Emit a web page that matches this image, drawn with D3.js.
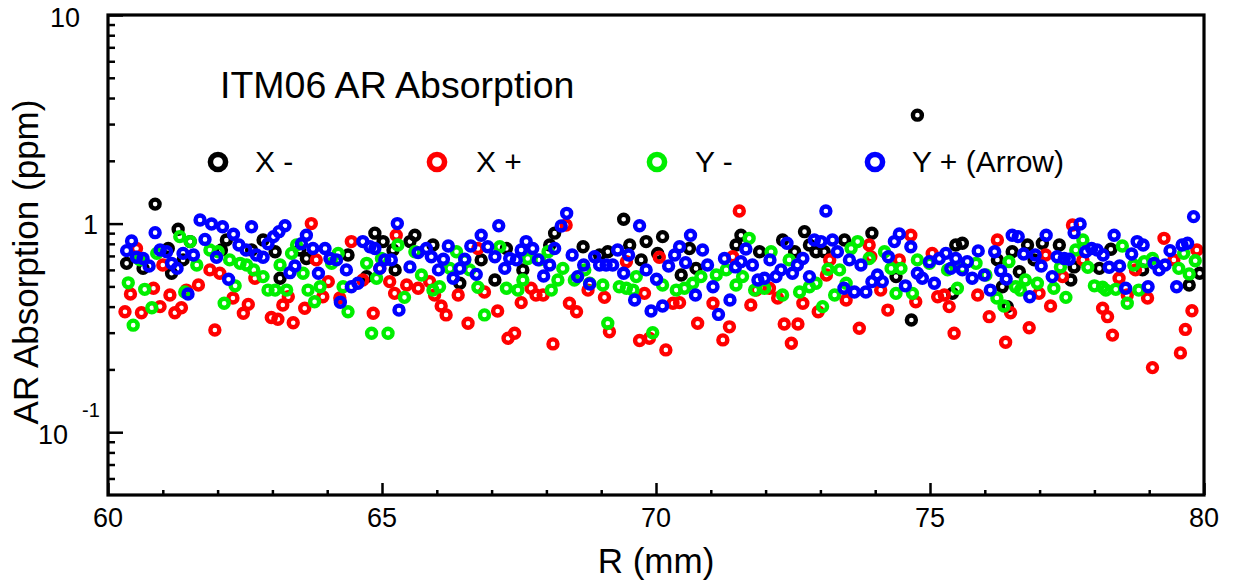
<!DOCTYPE html>
<html><head><meta charset="utf-8">
<script src="https://cdn.jsdelivr.net/npm/d3@7"></script>
<style>
html,body{margin:0;padding:0;background:#fff;}
svg{display:block;}
text{font-family:"Liberation Sans",Arial,Helvetica,sans-serif;fill:#000;}
</style></head>
<body><svg id="c" width="1233" height="584"></svg>
<script>
// ---- data: [R (mm), absorption (ppm)] ----
const xMinus = [[60.34,0.645],[60.64,0.61],[60.86,1.24],[61.10,0.76],[61.16,0.578],[61.28,0.94],[61.37,0.67],[61.50,0.82],[62.07,0.747],[62.16,0.835],[62.62,0.747],[62.83,0.835],[63.05,0.733],[63.14,0.547],[63.50,0.747],[63.62,0.68],[64.38,0.707],[64.72,0.557],[64.87,0.90],[65.02,0.82],[65.20,0.747],[65.24,0.60],[65.51,0.82],[65.60,0.88],[65.93,0.79],[66.42,0.518],[66.81,0.67],[67.06,0.537],[67.27,0.76],[67.57,0.60],[68.06,0.79],[68.15,0.90],[68.67,0.775],[68.97,0.707],[69.12,0.733],[69.41,1.05],[69.52,0.79],[69.73,0.67],[69.82,0.82],[70.03,0.72],[70.12,0.866],[70.46,0.567],[70.61,0.76],[70.73,0.61],[71.46,0.79],[71.55,0.88],[71.89,0.733],[72.31,0.835],[72.53,0.733],[72.71,0.915],[72.80,0.79],[72.92,0.733],[73.07,0.733],[73.44,0.835],[73.94,0.90],[74.38,0.557],[74.66,0.345],[74.77,3.31],[75.41,0.463],[75.47,0.79],[75.59,0.805],[76.23,0.67],[76.32,0.498],[76.41,0.40],[76.50,0.733],[76.63,0.588],[76.78,0.79],[76.90,0.67],[77.05,0.805],[77.36,0.79],[77.57,0.537],[77.63,0.62],[78.09,0.61],[78.30,0.753],[78.88,0.60],[79.73,0.508],[79.92,0.578]];
const xPlus = [[60.31,0.378],[60.41,0.46],[60.52,0.76],[60.61,0.374],[60.83,0.49],[60.95,0.40],[61.00,0.633],[61.13,0.455],[61.22,0.374],[61.34,0.395],[61.43,0.48],[61.65,0.508],[61.86,0.60],[61.95,0.309],[62.04,0.578],[62.28,0.44],[62.47,0.372],[62.56,0.41],[62.68,0.547],[62.98,0.355],[63.10,0.348],[63.19,0.407],[63.29,0.446],[63.38,0.335],[63.59,0.393],[63.71,1.0],[63.80,0.67],[63.92,0.446],[64.02,0.527],[64.23,0.44],[64.44,0.82],[64.65,0.537],[64.84,0.372],[64.96,0.61],[65.14,0.527],[65.23,0.463],[65.26,0.88],[65.45,0.508],[65.66,0.49],[65.87,0.527],[65.96,0.455],[66.08,0.403],[66.17,0.365],[66.39,0.455],[66.57,0.333],[66.75,0.76],[66.87,0.47],[67.11,0.381],[67.30,0.282],[67.42,0.298],[67.54,0.418],[67.72,0.49],[67.81,0.455],[67.94,0.455],[68.12,0.265],[68.36,0.985],[68.42,0.415],[68.55,0.378],[68.76,0.48],[69.06,0.443],[69.15,0.303],[69.46,0.657],[69.70,0.275],[69.79,0.463],[69.88,0.282],[70.06,0.69],[70.18,0.248],[70.31,0.415],[70.43,0.418],[70.76,0.333],[71.04,0.415],[71.22,0.277],[71.34,0.32],[71.40,0.694],[71.52,1.15],[71.73,0.407],[71.83,0.48],[72.07,0.49],[72.22,0.44],[72.34,0.33],[72.47,0.267],[72.59,0.33],[72.68,0.415],[72.96,0.378],[73.11,0.567],[73.17,0.67],[73.47,0.43],[73.71,0.315],[73.89,0.79],[73.92,0.694],[74.10,0.48],[74.23,0.385],[74.44,0.67],[74.65,0.88],[74.74,0.422],[75.04,0.72],[75.14,0.446],[75.26,0.455],[75.35,0.40],[75.44,0.298],[75.87,0.455],[76.08,0.358],[76.23,0.835],[76.38,0.27],[76.47,0.374],[76.81,0.317],[76.99,0.463],[77.11,0.707],[77.20,0.403],[77.42,0.557],[77.60,0.985],[77.79,0.67],[78.15,0.393],[78.24,0.358],[78.33,0.292],[78.45,0.547],[78.60,0.455],[78.75,0.60],[78.97,0.44],[79.06,0.204],[79.27,0.85],[79.45,0.67],[79.57,0.24],[79.66,0.311],[79.78,0.382],[79.87,0.747]];
const yMinus = [[60.37,0.52],[60.46,0.326],[60.58,0.67],[60.67,0.484],[60.80,0.395],[60.89,0.72],[61.31,0.866],[61.40,0.47],[61.50,0.82],[61.62,0.633],[61.86,0.747],[62.01,0.733],[62.12,0.415],[62.22,0.67],[62.32,0.503],[62.41,0.645],[62.53,0.633],[62.66,0.60],[62.83,0.557],[62.92,0.48],[63.05,0.48],[63.14,0.633],[63.26,0.48],[63.35,0.72],[63.44,0.79],[63.56,0.578],[63.65,0.48],[63.77,0.422],[63.87,0.498],[64.08,0.645],[64.20,0.72],[64.29,0.498],[64.38,0.378],[64.72,0.645],[64.81,0.298],[64.90,0.547],[64.99,0.68],[65.11,0.298],[65.29,0.79],[65.41,0.443],[65.60,0.733],[65.72,0.567],[65.93,0.48],[66.05,0.498],[66.24,0.61],[66.36,0.733],[66.51,0.67],[66.60,0.60],[66.75,0.495],[66.87,0.365],[67.15,0.775],[67.27,0.49],[67.48,0.48],[67.57,0.537],[67.66,0.68],[67.88,0.67],[68.03,0.733],[68.09,0.48],[68.21,0.537],[68.30,0.61],[68.51,0.537],[68.70,0.60],[68.79,0.518],[69.03,0.508],[69.12,0.333],[69.33,0.498],[69.46,0.49],[69.58,0.48],[69.64,0.557],[69.94,0.30],[70.12,0.508],[70.37,0.48],[70.52,0.49],[70.67,0.518],[70.82,0.557],[71.10,0.567],[71.28,0.60],[71.46,0.508],[71.58,0.557],[71.70,0.85],[71.80,0.48],[71.98,0.49],[72.10,0.733],[72.31,0.455],[72.43,0.67],[72.62,0.47],[72.80,0.498],[72.92,0.518],[73.04,0.40],[73.14,0.604],[73.26,0.455],[73.35,0.60],[73.47,0.518],[73.56,0.76],[73.68,0.82],[73.89,0.68],[74.17,0.733],[74.29,0.61],[74.38,0.463],[74.47,0.61],[74.68,0.463],[74.77,0.67],[74.99,0.645],[75.32,0.60],[75.50,0.49],[75.59,0.61],[75.84,0.645],[76.02,0.567],[76.22,0.44],[76.35,0.403],[76.44,0.657],[76.56,0.498],[76.65,0.48],[76.74,0.537],[76.96,0.518],[77.26,0.49],[77.38,0.62],[77.48,0.443],[77.66,0.747],[77.79,0.835],[77.88,0.618],[78.00,0.503],[78.15,0.495],[78.21,0.48],[78.39,0.484],[78.51,0.781],[78.60,0.415],[78.72,0.633],[78.81,0.48],[78.91,0.657],[79.06,0.68],[79.54,0.61],[79.63,0.72],[79.73,0.574],[79.84,0.664]];
const yPlus = [[60.34,0.742],[60.43,0.825],[60.52,0.69],[60.64,0.68],[60.75,0.626],[60.86,0.905],[60.95,0.747],[61.07,0.733],[61.16,0.645],[61.26,0.61],[61.37,0.72],[61.46,0.46],[61.56,0.707],[61.68,1.04],[61.77,0.84],[61.89,0.996],[61.98,0.69],[62.09,0.966],[62.20,0.541],[62.29,0.889],[62.39,0.79],[62.52,0.747],[62.62,0.966],[62.71,0.707],[62.83,0.69],[62.92,0.80],[63.02,0.866],[63.12,0.915],[63.23,0.977],[63.32,0.582],[63.41,0.626],[63.53,0.80],[63.62,0.88],[63.74,0.76],[63.84,0.578],[63.96,0.76],[64.05,0.68],[64.17,0.67],[64.24,0.42],[64.35,0.60],[64.44,0.498],[64.56,0.518],[64.65,0.82],[64.78,0.775],[64.87,0.76],[64.96,0.61],[65.05,0.67],[65.17,0.67],[65.28,1.0],[65.31,0.385],[65.51,0.62],[65.66,0.726],[65.81,0.76],[65.90,0.694],[66.03,0.60],[66.12,0.675],[66.21,0.781],[66.30,0.547],[66.42,0.61],[66.51,0.675],[66.62,0.781],[66.72,0.571],[66.81,0.88],[66.93,0.775],[67.06,0.694],[67.13,0.977],[67.24,0.61],[67.33,0.68],[67.45,0.67],[67.54,0.747],[67.63,0.82],[67.75,0.76],[67.85,0.67],[67.95,0.561],[68.06,0.633],[68.15,0.76],[68.27,0.974],[68.37,1.12],[68.47,0.707],[68.57,0.557],[68.68,0.633],[68.79,0.513],[68.88,0.694],[68.97,0.633],[69.09,0.633],[69.21,0.633],[69.30,0.747],[69.41,0.578],[69.50,0.707],[69.61,0.43],[69.70,0.977],[69.82,0.60],[69.91,0.381],[70.01,0.541],[70.12,0.403],[70.23,0.626],[70.34,0.707],[70.43,0.775],[70.54,0.65],[70.63,0.88],[70.72,0.455],[70.85,0.747],[70.94,0.633],[71.04,0.498],[71.14,0.367],[71.25,0.68],[71.35,0.43],[71.45,0.62],[71.55,0.657],[71.64,0.755],[71.76,0.633],[71.86,0.537],[71.98,0.547],[72.08,0.67],[72.19,0.557],[72.28,0.60],[72.39,0.805],[72.49,0.578],[72.58,0.633],[72.68,0.68],[72.80,0.557],[72.89,0.835],[73.01,0.82],[73.10,1.15],[73.22,0.835],[73.31,0.733],[73.43,0.49],[73.53,0.67],[73.62,0.47],[73.74,0.633],[73.83,0.47],[73.94,0.527],[74.04,0.567],[74.13,0.527],[74.24,0.694],[74.35,0.82],[74.44,0.892],[74.55,0.503],[74.65,0.775],[74.77,0.578],[74.86,0.547],[74.99,0.657],[75.08,0.518],[75.17,0.68],[75.29,0.72],[75.38,0.61],[75.47,0.68],[75.59,0.60],[75.68,0.657],[75.77,0.547],[75.88,0.74],[75.99,0.567],[76.10,0.48],[76.18,0.733],[76.29,0.595],[76.39,0.542],[76.50,0.88],[76.61,0.866],[76.71,0.715],[76.82,0.446],[76.92,0.707],[77.03,0.626],[77.12,0.88],[77.23,0.557],[77.32,0.694],[77.45,0.68],[77.54,0.675],[77.63,0.905],[77.74,0.996],[77.84,0.733],[77.95,0.76],[78.05,0.747],[78.16,0.707],[78.27,0.618],[78.36,0.88],[78.46,0.626],[78.57,0.49],[78.68,0.715],[78.78,0.82],[78.89,0.79],[78.98,0.498],[79.09,0.645],[79.18,0.60],[79.29,0.633],[79.38,0.742],[79.50,0.498],[79.60,0.79],[79.70,0.805],[79.81,1.08]];

const seriesNames = ["X -", "X +", "Y -", "Y + (Arrow)"];
const seriesColors = ["#000000", "#ff0000", "#00ee00", "#0000ff"];
const xTicks = [60, 65, 70, 75, 80];
const xMinorTicks = d3.range(61, 80, 1).filter(v => v % 5 !== 0);
const yMajorTicks = [0.1, 1, 10];
const yMinorTicks = [0.06,0.07,0.08,0.09,0.2,0.3,0.4,0.5,0.6,0.7,0.8,0.9,2,3,4,5,6,7,8,9];
const titleText = "ITM06 AR Absorption";
const xTitle = "R (mm)";
const yTitle = "AR Absorption (ppm)";

// ---- layout ----
const L = 108, R = 1204, T = 15, B = 495;
const svg = d3.select("#c");
const x = d3.scaleLinear().domain([60, 80]).range([L, R]);
const y = d3.scaleLog().domain([0.05, 10]).range([B, T]);

svg.append("defs").append("clipPath").attr("id", "pc")
  .append("rect").attr("x", L).attr("y", T).attr("width", R - L).attr("height", B - T);

// points
const allSeries = [xMinus, xPlus, yMinus, yPlus];
const pts = svg.append("g").attr("clip-path", "url(#pc)");
allSeries.forEach((s, i) => {
  pts.append("g").selectAll("circle").data(s).join("circle")
    .attr("cx", d => x(d[0])).attr("cy", d => y(d[1])).attr("r", 4.5)
    .attr("fill", "none").attr("stroke", seriesColors[i]).attr("stroke-width", 4.4);
});

// axes ticks (inside)
const gx = svg.append("g").attr("transform", `translate(0,${B})`);
gx.call(d3.axisBottom(x).tickValues(xTicks).tickSize(-12).tickFormat(""));
const gxm = svg.append("g").attr("transform", `translate(0,${B})`);
gxm.call(d3.axisBottom(x).tickValues(xMinorTicks).tickSize(-5).tickFormat(""));
const gy = svg.append("g").attr("transform", `translate(${L},0)`);
gy.call(d3.axisLeft(y).tickValues(yMajorTicks).tickSize(-15).tickFormat(""));
const gym = svg.append("g").attr("transform", `translate(${L},0)`);
gym.call(d3.axisLeft(y).tickValues(yMinorTicks).tickSize(-7).tickFormat(""));
[gx, gxm, gy, gym].forEach(g => {
  g.select(".domain").remove();
  g.selectAll(".tick line").attr("stroke", "#000").attr("stroke-width", 2.5);
});

// frame
svg.append("rect").attr("x", L).attr("y", T).attr("width", R - L).attr("height", B - T)
  .attr("fill", "none").attr("stroke", "#000").attr("stroke-width", 3.2);

// x tick labels
svg.append("g").selectAll("text").data(xTicks).join("text")
  .attr("x", d => x(d)).attr("y", 527).attr("text-anchor", "middle")
  .attr("font-size", 27).text(d => d);

// y tick labels
svg.append("text").attr("x", 80).attr("y", y(10) + 12).attr("text-anchor", "end").attr("font-size", 27).text("10");
svg.append("text").attr("x", 98).attr("y", y(1) + 10).attr("text-anchor", "end").attr("font-size", 27).text("1");
svg.append("text").attr("x", 68).attr("y", y(0.1) + 12).attr("text-anchor", "end").attr("font-size", 27).text("10");
svg.append("text").attr("x", 82).attr("y", y(0.1) - 15).attr("text-anchor", "start").attr("font-size", 20).text("-1");

// axis titles
svg.append("text").attr("x", (L + R) / 2).attr("y", 573).attr("text-anchor", "middle")
  .attr("font-size", 35).text(xTitle);
svg.append("text").attr("transform", "translate(38,262) rotate(-90)").attr("text-anchor", "middle")
  .attr("font-size", 35).text(yTitle);

// chart title
svg.append("text").attr("x", 220).attr("y", 98).attr("font-size", 37.5).text(titleText);

// legend
const legMarkX = [218, 437, 657, 875];
const legTextX = [255, 476, 695, 912];
seriesNames.forEach((n, i) => {
  svg.append("circle").attr("cx", legMarkX[i]).attr("cy", 162).attr("r", 7.6)
    .attr("fill", "none").attr("stroke", seriesColors[i]).attr("stroke-width", 5.5);
  svg.append("text").attr("x", legTextX[i]).attr("y", 172).attr("font-size", 30).text(n);
});
</script></body></html>
